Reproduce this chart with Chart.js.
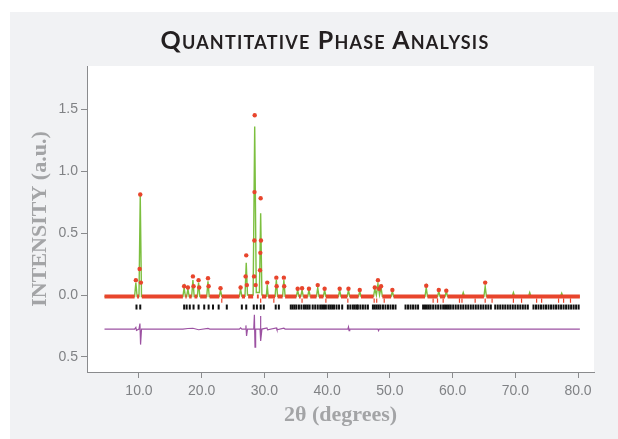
<!DOCTYPE html>
<html>
<head>
<meta charset="utf-8">
<script src="https://cdn.jsdelivr.net/npm/chart.js@4/dist/chart.umd.min.js"></script>
<style>
  html, body { margin: 0; padding: 0; background: #fff; }
  #panel {
    position: absolute; left: 10px; top: 12px;
    width: 608px; height: 427px; background: #f1f2f4;
  }
  #title {
    position: absolute; left: 22px; top: 15px; width: 586px;
    text-align: center; font: bold 25px/24px Lato, "Open Sans", sans-serif;
    font-variant: small-caps; letter-spacing: 1.2px; color: #231f20;
  }
  #chart { position: absolute; left: 0; top: 0; }
</style>
</head>
<body>
<div id="panel">
  <canvas id="chart" width="608" height="427"></canvas>
  <div id="title">Quantitative Phase Analysis</div>
</div>
<script>
// ── Data ───────────────────────────────────────────────────────────────────
const xTicks = [10, 20, 30, 40, 50, 60, 70, 80];
const yTicks = [-0.5, 0, 0.5, 1.0, 1.5];

// calculated profile (green)
const calcTheta = [
  4.5, 9.3, 9.5, 9.7, 10.0, 10.2, 10.4,
  17.0, 17.2, 17.4, 17.6, 17.8, 18.0, 18.4, 18.6, 18.8, 19.3, 19.5, 19.7,
  20.8, 21.0, 21.2, 22.8, 23.0, 23.2,
  26.0, 26.2, 26.4, 26.9, 27.1, 27.3, 28.2, 28.45, 28.7, 29.2, 29.4, 29.6,
  30.3, 30.45, 30.6, 31.7, 31.9, 32.1, 32.9, 33.1, 33.3,
  35.1, 35.3, 35.5, 35.8, 36.0, 36.2, 36.9, 37.1, 37.3, 38.3, 38.5, 38.7,
  39.4, 39.6, 39.8, 41.8, 42.0, 42.2, 43.2, 43.4, 43.6, 45.0, 45.2, 45.4,
  47.4, 47.6, 47.85, 48.1, 48.35, 48.6, 48.8, 50.2, 50.4, 50.6,
  55.6, 55.8, 56.0, 57.6, 57.8, 58.0, 58.8, 59.0, 59.2,
  61.5, 61.7, 61.9, 65.0, 65.2, 65.4, 69.5, 69.7, 69.9,
  72.1, 72.3, 72.5, 77.2, 77.4, 77.6, 80.3
];
const calcIntensity = [
  -0.012, -0.012, 0.10, -0.012, -0.012, 0.80, -0.012,
  -0.012, 0.06, -0.012, -0.012, 0.05, -0.012, -0.012, 0.12, -0.012, -0.012, 0.10, -0.012,
  -0.012, 0.11, -0.012, -0.012, 0.04, -0.012,
  -0.012, 0.05, -0.01, -0.01, 0.26, 0.0, 0.0, 1.36, 0.02, 0.02, 0.66, 0.0,
  -0.01, 0.08, -0.01, -0.01, 0.12, -0.01, -0.01, 0.12, -0.01,
  -0.012, 0.04, -0.01, -0.01, 0.04, -0.012, -0.012, 0.04, -0.012, -0.012, 0.06, -0.012,
  -0.012, 0.04, -0.012, -0.012, 0.04, -0.012, -0.012, 0.04, -0.012, -0.012, 0.03, -0.012,
  -0.01, 0.05, 0.0, 0.09, 0.0, 0.06, -0.01, -0.012, 0.03, -0.012,
  -0.012, 0.06, -0.012, -0.012, 0.03, -0.012, -0.012, 0.03, -0.012,
  -0.012, 0.02, -0.012, -0.012, 0.07, -0.012, -0.012, 0.02, -0.012,
  -0.012, 0.02, -0.012, -0.012, 0.015, -0.012, -0.012
];

// observed (red)
const obsTheta = [
  4.5, 9.3, 9.5, 9.7, 10.0, 10.1, 10.2, 10.3, 10.45,
  17.0, 17.2, 17.4, 17.6, 17.8, 18.0, 18.4, 18.6, 18.7, 18.85,
  19.3, 19.5, 19.6, 19.75, 20.8, 21.0, 21.1, 21.25, 22.8, 23.0, 23.2,
  26.0, 26.2, 26.4, 26.9, 27.0, 27.1, 27.2, 27.4,
  28.2, 28.35, 28.4, 28.42, 28.45, 28.6, 28.8,
  29.1, 29.3, 29.35, 29.4, 29.45, 29.6,
  30.3, 30.45, 30.6, 31.7, 31.9, 31.95, 32.1, 32.9, 33.1, 33.15, 33.3,
  35.1, 35.3, 35.5, 35.8, 36.0, 36.2, 36.9, 37.1, 37.3, 38.3, 38.5, 38.7,
  39.4, 39.6, 39.8, 41.8, 42.0, 42.2, 43.2, 43.4, 43.6, 45.0, 45.2, 45.4,
  47.4, 47.6, 48.1, 48.3, 48.6, 48.8, 50.2, 50.4, 50.6,
  55.6, 55.8, 56.0, 57.6, 57.8, 58.0, 58.8, 59.0, 59.2,
  65.0, 65.2, 65.4, 80.3
];
const obsIntensity = [
  -0.012, -0.012, 0.12, -0.012, -0.012, 0.21, 0.81, 0.10, -0.012,
  -0.012, 0.07, -0.012, -0.012, 0.06, -0.012, -0.012, 0.15, 0.07, -0.012,
  -0.012, 0.12, 0.06, -0.012, -0.012, 0.135, 0.07, -0.012, -0.012, 0.055, -0.012,
  -0.012, 0.06, -0.012, -0.012, 0.15, 0.32, 0.08, -0.012,
  -0.012, 0.15, 0.44, 0.83, 1.45, 0.08, -0.012,
  -0.012, 0.20, 0.34, 0.78, 0.44, -0.012,
  -0.012, 0.10, -0.012, -0.012, 0.14, 0.07, -0.012, -0.012, 0.14, 0.07, -0.012,
  -0.012, 0.05, -0.012, -0.012, 0.055, -0.012, -0.012, 0.05, -0.012, -0.012, 0.08, -0.012,
  -0.012, 0.05, -0.012, -0.012, 0.05, -0.012, -0.012, 0.05, -0.012, -0.012, 0.04, -0.012,
  -0.012, 0.06, 0.12, 0.05, 0.07, -0.012, -0.012, 0.04, -0.012,
  -0.012, 0.075, -0.012, -0.012, 0.04, -0.012, -0.012, 0.035, -0.012,
  -0.012, 0.10, -0.012, -0.012
];

// difference curve (purple)
const diffTheta = [
  4.5, 9.3, 9.5, 9.6, 10.0, 10.15, 10.25, 10.4,
  17.0, 17.8, 18.6, 19.5, 21.0, 21.3,
  26.0, 26.2, 26.4, 27.0, 27.05, 27.15, 27.3,
  28.3, 28.4, 28.5, 28.6, 29.3, 29.35, 29.45, 29.6,
  30.4, 30.5, 31.9, 32.0, 33.1, 33.3,
  43.3, 43.4, 43.5, 43.6, 48.1, 48.2, 48.3, 80.3
];
const diffIntensity = [
  -0.275, -0.275, -0.262, -0.285, -0.275, -0.23, -0.40, -0.275,
  -0.275, -0.27, -0.268, -0.28, -0.27, -0.275,
  -0.275, -0.265, -0.275, -0.275, -0.245, -0.33, -0.275,
  -0.275, -0.16, -0.42, -0.275, -0.275, -0.17, -0.37, -0.275,
  -0.265, -0.28, -0.265, -0.28, -0.268, -0.275,
  -0.275, -0.258, -0.288, -0.275, -0.275, -0.288, -0.275, -0.275
];

// reflection positions: main phase (black) and second phase (red)
const phase1Ticks = [
  9.6, 10.2, 17.2, 17.6, 18.1, 18.7, 19.5, 20.4, 21.1, 21.8, 22.7, 24.0,
  26.4, 27.1, 28.3, 28.8, 29.4, 29.9, 31.8, 32.3,
  34.2, 34.5, 34.8, 35.1, 35.5, 35.9, 36.3, 36.6, 36.9, 37.2, 37.7, 38.1, 38.5, 38.9,
  39.2, 39.5, 39.8, 40.2, 40.5, 40.8, 41.1, 41.5, 41.9, 42.4, 43.3, 43.7, 44.1, 44.4, 44.7,
  44.9, 45.3, 45.7, 46.1, 46.5, 47.3, 47.6, 47.9, 48.2, 48.5, 48.9, 49.3, 49.7,
  50.1, 50.5, 50.9, 52.5, 52.9, 53.3, 53.7, 54.1, 54.5, 55.3, 55.6, 55.9, 56.2,
  56.5, 56.9, 57.3, 57.7, 58.1, 58.5, 58.8, 59.1, 59.4, 59.7, 60.1, 60.5, 60.9,
  61.3, 61.7, 62.1, 62.5, 62.9, 63.3, 63.7, 64.1, 64.5, 64.9, 65.3, 65.7,
  66.1, 66.8, 67.2, 67.6, 68.0, 68.4, 68.8, 69.2, 69.6, 70.0, 70.4, 70.8,
  71.2, 71.6, 72.0, 72.9, 73.3, 73.7, 74.1, 74.5, 74.9, 75.3, 75.7, 76.1,
  76.5, 76.9, 77.3, 77.7, 78.1, 78.5, 78.9, 79.3, 79.7, 80.1
];
const phase2Ticks = [
  23.2, 29.4, 31.5, 36.0, 39.8, 43.3, 47.5, 47.9, 49.1,
  56.9, 57.6, 58.5, 61.1, 61.5, 63.6, 65.2, 66.3, 69.7, 71.0,
  73.4, 74.2, 76.9, 77.7, 78.8
];

// ── Styles ─────────────────────────────────────────────────────────────────
const RED    = '#e8452c';
const GREEN  = '#7cbf3f';
const PURPLE = '#9c52a2';
const AXIS   = '#8a8b8d';
const LABEL  = '#808285';
const TITLE  = '#a3a4a6';

const pts = (xs, ys) => xs.map((x, i) => ({ x, y: ys[i] }));
const isPeak = y => y > 0.015;

// white plot area
const plotBg = {
  id: 'plotBg',
  beforeDraw(chart) {
    const { ctx, chartArea: a } = chart;
    ctx.save();
    ctx.fillStyle = '#fff';
    ctx.fillRect(a.left, a.top, a.right - a.left, a.bottom - a.top);
    ctx.restore();
  }
};

new Chart(document.getElementById('chart'), {
  type: 'scatter',
  data: {
    datasets: [
      {
        label: 'Observed',
        data: pts(obsTheta, obsIntensity),
        showLine: true,
        borderColor: RED,
        borderWidth: 4,
        backgroundColor: RED,
        pointBackgroundColor: RED,
        pointBorderColor: RED,
        pointBorderWidth: 0,
        pointRadius: ctx => isPeak(ctx.raw.y) ? 2.2 : 0,
        segment: {
          borderColor: ctx => (isPeak(ctx.p0.parsed.y) || isPeak(ctx.p1.parsed.y)) ? 'rgba(0,0,0,0)' : RED
        },
        order: 1
      },
      {
        label: 'Calculated',
        data: pts(calcTheta, calcIntensity),
        showLine: true,
        borderColor: GREEN,
        borderWidth: 1.4,
        pointRadius: 0,
        order: 2
      },
      {
        label: 'Phase 1',
        data: phase1Ticks.map(x => ({ x, y: -0.097 })),
        pointStyle: 'line',
        rotation: 90,
        pointRadius: 2.5,
        borderColor: '#111',
        pointBorderWidth: 2,
        order: 4
      },
      {
        label: 'Phase 2',
        data: phase2Ticks.map(x => ({ x, y: -0.045 })),
        pointStyle: 'line',
        rotation: 90,
        pointRadius: 2.2,
        borderColor: RED,
        pointBorderWidth: 1.2,
        order: 5
      },
      {
        label: 'Difference',
        data: pts(diffTheta, diffIntensity),
        showLine: true,
        borderColor: PURPLE,
        borderWidth: 1.2,
        pointRadius: 0,
        order: 6
      }
    ]
  },
  options: {
    responsive: false,
    animation: false,
    events: [],
    layout: { padding: { left: 0, right: 24, top: 54, bottom: 0 } },
    plugins: { legend: { display: false }, tooltip: { enabled: false } },
    scales: {
      x: {
        type: 'linear',
        min: 1.71,
        max: 82.55,
        afterFit: s => { s.height = 67; },
        afterBuildTicks: s => { s.ticks = xTicks.map(v => ({ value: v })); },
        ticks: {
          includeBounds: false,
          padding: 5,
          color: LABEL,
          font: { family: '"Liberation Sans", Arial, sans-serif', size: 14 },
          callback: v => v.toFixed(1)
        },
        grid: { drawOnChartArea: false, drawTicks: true, tickLength: 6, color: AXIS },
        border: { display: true, color: AXIS, width: 1 },
        title: {
          display: true,
          text: '2θ (degrees)',
          color: TITLE,
          padding: { top: 0, bottom: 10 },
          font: { family: '"Liberation Serif", "Times New Roman", serif', size: 22, weight: 'bold' }
        }
      },
      y: {
        type: 'linear',
        min: -0.621,
        max: 1.847,
        afterFit: s => { s.width = 77; },
        afterBuildTicks: s => { s.ticks = yTicks.map(v => ({ value: v })); },
        ticks: {
          includeBounds: false,
          padding: 3,
          color: LABEL,
          font: { family: '"Liberation Sans", Arial, sans-serif', size: 14 },
          callback: v => Math.abs(v).toFixed(1)
        },
        grid: { drawOnChartArea: false, drawTicks: true, tickLength: 6, color: AXIS },
        border: { display: true, color: AXIS, width: 1 },
        title: {
          display: true,
          text: 'INTENSITY (a.u.)',
          color: TITLE,
          padding: { top: 17, bottom: 0 },
          font: { family: '"Liberation Serif", "Times New Roman", serif', size: 22, weight: 'bold' }
        }
      }
    }
  },
  plugins: [plotBg]
});
</script>
</body>
</html>
